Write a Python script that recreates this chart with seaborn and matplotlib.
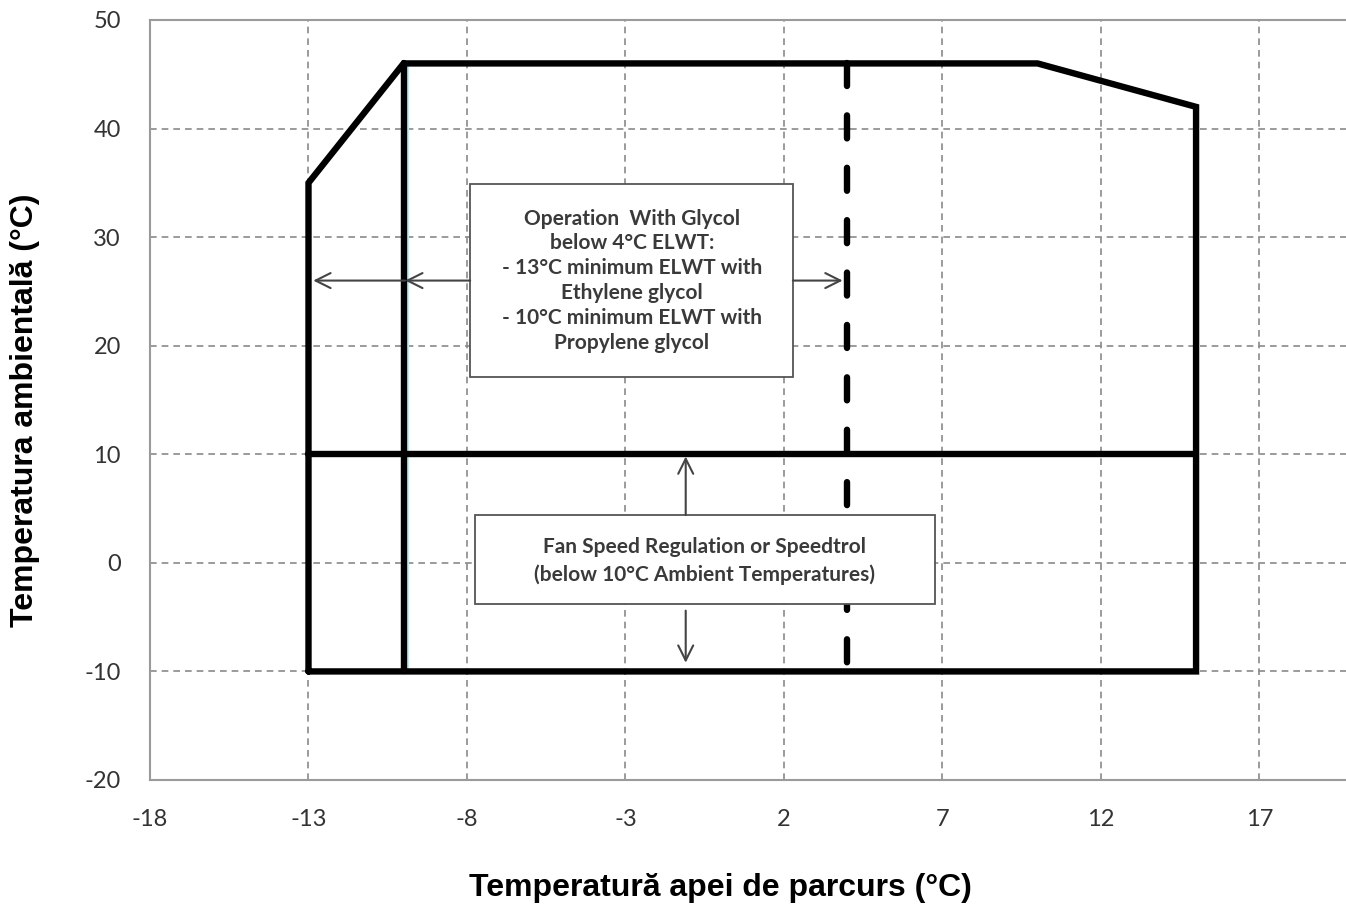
import numpy as np
import pandas as pd
import matplotlib
matplotlib.use("Agg")
import matplotlib.pyplot as plt
import seaborn as sns

# Operating envelope (water temp vs ambient temp)
env_x = [-13, -13, -10, 10, 15, 15, -13]
env_y = [-10, 35, 46, 46, 42, -10, -10]

# inner lines
glycol_x = [-10, -10]
glycol_y = [-10, 46]
fan_x = [-13, 15]
fan_y = [10, 10]
elwt_x = [4, 4]
elwt_y = [46, -10]

x_ticks = [-18, -13, -8, -3, 2, 7, 12, 17]
y_ticks = [-20, -10, 0, 10, 20, 30, 40, 50]

glycol_text = ("Operation  With Glycol\nbelow 4°C ELWT:\n- 13°C minimum ELWT with\n"
               "Ethylene glycol\n- 10°C minimum ELWT with\nPropylene glycol")
fan_text = "Fan Speed Regulation or Speedtrol\n(below 10°C Ambient Temperatures)"

sns.set_theme(style="white")
plt.rcParams['font.family'] = ['Lato', 'DejaVu Sans']
plt.rcParams['axes.unicode_minus'] = False

fig = plt.figure(figsize=(13.46, 9.07), dpi=100)
ax = fig.add_axes([150 / 1346, 1 - 780 / 907, 1 - 150 / 1346, (780 - 20) / 907])

# grid
ax.set_axisbelow(True)
ax.grid(True, color='#8a8a8a', linewidth=1.2, linestyle=(0, (4, 3)))

# light cyan edge next to the -10 line
sns.lineplot(x=[v + 0.13 for v in glycol_x], y=glycol_y, color='#b8f0f0', linewidth=1.5, ax=ax,
             sort=False, estimator=None)

sns.lineplot(x=env_x, y=env_y, sort=False, estimator=None, color='black', linewidth=4.6, ax=ax)
ax.lines[-1].set_solid_joinstyle('miter')
sns.lineplot(x=glycol_x, y=glycol_y, color='black', linewidth=4.6, ax=ax, sort=False, estimator=None)
sns.lineplot(x=fan_x, y=fan_y, color='black', linewidth=4.6, ax=ax, sort=False, estimator=None)
sns.lineplot(x=elwt_x, y=elwt_y, color='black', linewidth=4.6, ax=ax, sort=False, estimator=None)
ax.lines[-1].set_dashes((3.6, 4.6))
ax.lines[-1].set_dash_capstyle('round')

# text boxes
ax.add_patch(plt.Rectangle((-7.9, 17.1), 10.18, 17.8, facecolor='white', edgecolor='#555555',
                           linewidth=1.3, zorder=5))
ax.text(-2.8, 26.0, glycol_text, ha='center', va='center', fontsize=15, fontweight='bold',
        color='#3a3a3a', linespacing=1.3, zorder=6)
ax.add_patch(plt.Rectangle((-7.75, -3.8), 14.5, 8.2, facecolor='white', edgecolor='#555555',
                           linewidth=1.3, zorder=5))
ax.text(-0.5, 0.2, fan_text, ha='center', va='center', fontsize=15, fontweight='bold',
        color='#3a3a3a', linespacing=1.45, zorder=6)

# arrows
arr = dict(arrowstyle='->,head_length=0.9,head_width=0.45', color='#444444', lw=1.5,
           shrinkA=0, shrinkB=0)
ax.annotate('', xy=(-9.95, 26), xytext=(-7.9, 26), arrowprops=arr, zorder=7)
ax.annotate('', xy=(-12.85, 26), xytext=(-9.95, 26), arrowprops=arr, zorder=7)
ax.annotate('', xy=(3.85, 26), xytext=(2.28, 26), arrowprops=arr, zorder=7)
ax.annotate('', xy=(-1.1, 9.8), xytext=(-1.1, 4.4), arrowprops=arr, zorder=7)
ax.annotate('', xy=(-1.1, -9.2), xytext=(-1.1, -4.4), arrowprops=arr, zorder=7)

# axes
ax.set_xlim(-18, 19.73)
ax.set_ylim(-20, 50)
ax.set_xticks(x_ticks)
ax.set_yticks(y_ticks)
ax.tick_params(axis='both', labelsize=17, colors='#333333', width=1.3)
ax.tick_params(axis='y', direction='out', length=7, pad=14)
ax.tick_params(axis='x', direction='out', length=6, pad=15)
for s in ['left', 'bottom', 'top']:
    ax.spines[s].set_color('#9a9a9a')
    ax.spines[s].set_linewidth(1.5)
ax.spines['right'].set_visible(False)
ax.set_xlabel('')
ax.set_ylabel('')

fig.text(720 / 1346, 1 - 888 / 907, 'Temperatură apei de parcurs (°C)', ha='center', va='center',
         fontsize=23, fontweight='bold', family=['Liberation Sans', 'DejaVu Sans'], color='black')
fig.text(25 / 1346, 1 - 410 / 907, 'Temperatura ambientală (°C)', ha='center', va='center',
         rotation=90, fontsize=23, fontweight='bold', family=['Liberation Sans', 'DejaVu Sans'],
         color='black')

fig.savefig('out.png', dpi=100)
